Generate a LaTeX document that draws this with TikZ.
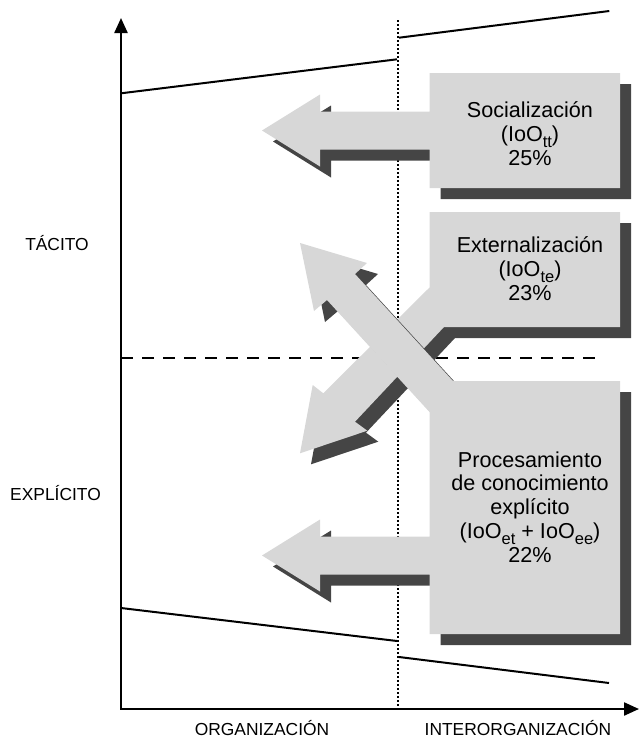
\documentclass[tikz,border=0pt]{standalone}
\usepackage{fontspec}
\setmainfont{Liberation Sans}
\usetikzlibrary{arrows.meta}

\definecolor{panelgray}{HTML}{D7D7D7}
\definecolor{shadowgray}{HTML}{454545}

% lowered, smaller text for the IoO indices
\newcommand\idx[1]{\raisebox{-0.28em}{\fontsize{16.5}{16.5}\selectfont #1}}

\begin{document}
\begin{tikzpicture}[x=1pt,y=-1pt,
  axis/.style={line width=2.3pt, line join=miter},
  boundary/.style={line width=2pt},
  divider/.style={line width=2.4pt, dash pattern=on 2pt off 2pt},
  midline/.style={line width=2pt, dash pattern=on 12pt off 9pt},
  panel/.style={fill=panelgray},
  panelshadow/.style={fill=shadowgray, shift={(11,11)}},
  boxtext/.style={align=center, inner sep=0pt, font=\fontsize{21.6}{23.7}\selectfont},
  axislabel/.style={inner sep=0pt, font=\fontsize{17.4}{20}\selectfont},
  % outlines of the three block shapes
  soc outline/.style={insert path={(620,73) -- (429.5,73) -- (429.5,111.5) -- (320,111.5)
      -- (320,94.5) -- (262,130.5) -- (320,166.5) -- (320,149.5) -- (429.5,149.5)
      -- (429.5,188) -- (620,188) -- cycle}},
  ext outline/.style={insert path={(429.5,212) -- (620,212) -- (620,327) -- (444,327)
      -- (355,421.7) -- (367.3,430.7) -- (300,453.3) -- (312.7,385) -- (323.3,393.3)
      -- (429.5,287.5) -- cycle}},
  proc outline/.style={insert path={(620,381) -- (453,381) -- (355,274) -- (367,263)
      -- (300,243) -- (314,311) -- (327,300) -- (429.5,412) -- (429.5,536.5)
      -- (320,536.5) -- (320,519.5) -- (262,555.5) -- (320,591.5) -- (320,574.5)
      -- (429.5,574.5) -- (429.5,634) -- (620,634) -- cycle}}
]
\useasboundingbox (0,0) rectangle (642,742);

% reference points
\coordinate (origin) at (121,709);
\coordinate (ytip) at (121,18);
\coordinate (xtip) at (639,709);
\coordinate (divtop) at (398,20);
\coordinate (divbot) at (398,709);
\coordinate (midL) at (121,357.5);
\coordinate (midR) at (602,357.5);
\coordinate (upA) at (121,93.3);
\coordinate (upB) at (397,59.3);
\coordinate (upC) at (399,37.7);
\coordinate (upD) at (609.3,11);
\coordinate (loA) at (121,608);
\coordinate (loB) at (397,641);
\coordinate (loC) at (399,657);
\coordinate (loD) at (609,683);

% guide lines
\draw[divider] (divtop) -- (divbot);
\draw[midline] (midL) -- (midR);
\draw[boundary] (upA) -- (upB);
\draw[boundary] (upC) -- (upD);
\draw[boundary] (loA) -- (loB);
\draw[boundary] (loC) -- (loD);

% axes
\draw[axis, {Triangle[length=15pt,width=13pt]}-{Triangle[length=15pt,width=13pt]}]
  (ytip) -- (origin) -- (xtip);

% block shapes with drop shadows
\fill[panelshadow, soc outline];
\fill[panel, soc outline];
\fill[panelshadow, ext outline];
\fill[panel, ext outline];
\fill[panelshadow, proc outline];
\fill[panel, proc outline];

% texts in the blocks
\node[boxtext, anchor=base] (soc) at (530,165) {Socialización\\(IoO\idx{tt})\\25\%};
\node[boxtext, anchor=base] (ext) at (530,300) {Externalización\\(IoO\idx{te})\\23\%};
\node[boxtext, anchor=base] (proc) at (530,562)
  {Procesamiento\\de conocimiento\\explícito\\(IoO\idx{et} + IoO\idx{ee})\\22\%};

% axis labels
\node[axislabel, anchor=base] (tac) at (57,250.7) {TÁCITO};
\node[axislabel, anchor=base] (exp) at (55.5,500) {EXPLÍCITO};
\node[axislabel, anchor=base] (org) at (262,735) {ORGANIZACIÓN};
\node[axislabel, anchor=base] (inter) at (518,735) {INTERORGANIZACIÓN};
\end{tikzpicture}
\end{document}
